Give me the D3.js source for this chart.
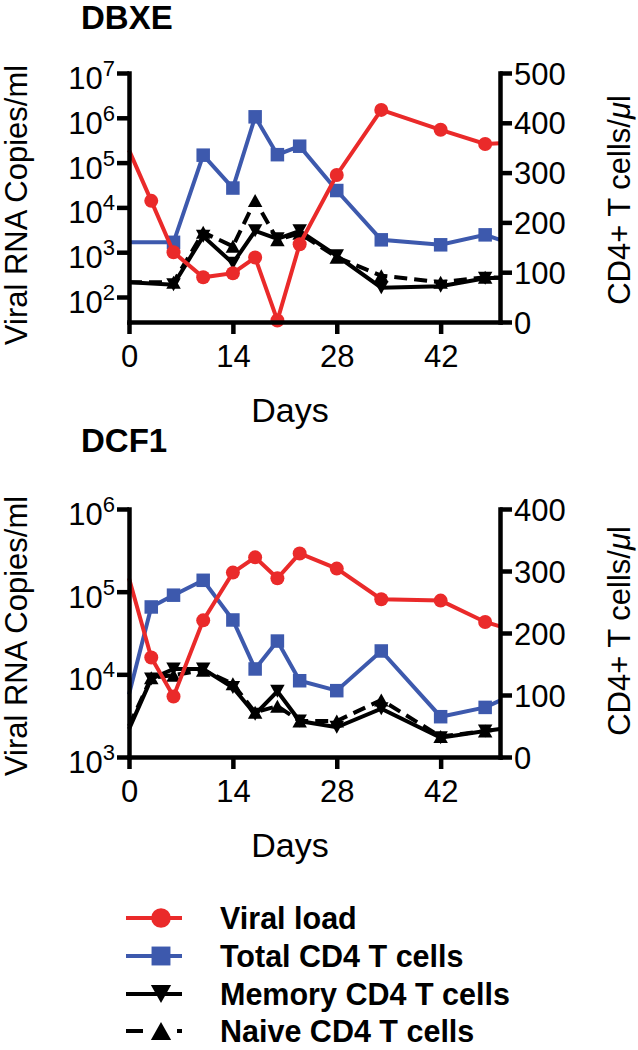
<!DOCTYPE html>
<html>
<head>
<meta charset="utf-8">
<script src="https://cdn.jsdelivr.net/npm/d3@7"></script>
<style>
  html, body { margin: 0; padding: 0; background: #fff; }
  svg { display: block; }
  text { font-family: "Liberation Sans", Arial, Helvetica, sans-serif; fill: #000; }
</style>
</head>
<body>
<svg id="chart" width="638" height="1050"></svg>
<script>
// ---------- DATA ----------
const panelTitles = ["DBXE", "DCF1"];
const xTicks = [0, 14, 28, 42];

// DBXE
const dbxeViralDays = [0, 3, 6, 10, 14, 17, 20, 23, 28, 34, 42, 48, 50];
const dbxeViral     = [1.9e5, 1.4e4, 1.0e3, 275, 340, 760, 30, 1500, 5.3e4, 1.5e6, 5.4e5, 2.6e5, 2.7e5];
const dbxeCellDays  = [0, 6, 10, 14, 17, 20, 23, 28, 34, 42, 48, 50];
const dbxeTotal     = [160, 160, 335, 269, 412, 336, 353, 264, 165, 155, 175, 165];
const dbxeMemory    = [80, 75, 172, 118, 183, 167, 183, 133, 69, 72, 88, 89];
const dbxeNaive     = [80, 80, 180, 152, 244, 165, 178, 130, 93, 80, 90, 89];
const dbxeLeftTicks = [1e2, 1e3, 1e4, 1e5, 1e6, 1e7];
const dbxeRightTicks = [0, 100, 200, 300, 400, 500];

// DCF1
const dcf1Days      = [0, 3, 6, 10, 14, 17, 20, 23, 28, 34, 42, 48, 50];
const dcf1Viral     = [1.45e5, 1.6e4, 5.4e3, 4.5e4, 1.7e5, 2.6e5, 1.45e5, 2.9e5, 1.9e5, 8.1e4, 7.8e4, 4.3e4, 3.8e4];
const dcf1Total     = [101, 242, 261, 285, 221, 142, 187, 123, 107, 171, 65, 80, 91];
const dcf1Memory    = [45, 126, 142, 142, 112, 69, 106, 58, 48, 78, 31, 42, 45];
const dcf1Naive     = [50, 128, 132, 140, 118, 72, 82, 58, 58, 92, 33, 42, 45];
const dcf1LeftTicks = [1e3, 1e4, 1e5, 1e6];
const dcf1RightTicks = [0, 100, 200, 300, 400];

const legendLabels = ["Viral load", "Total CD4 T cells", "Memory CD4 T cells", "Naive CD4 T cells"];

// ---------- STYLE ----------
const RED = "#ea2a2a", BLUE = "#3d59ad", BLACK = "#000";
const FONT = 31;

const svg = d3.select("#chart");

function triPath(w, h, down) {
  const s = down ? -1 : 1;
  return `M0,${-s*h/2} L${w/2},${s*h/2} L${-w/2},${s*h/2} Z`;
}

function drawMarker(g, type, x, y, big) {
  const k = big ? 1.4 : 1;
  if (type === "circle") {
    g.append("circle").attr("cx", x).attr("cy", y).attr("r", 7 * k).attr("fill", RED);
  } else if (type === "square") {
    const s = 13.5 * k;
    g.append("rect").attr("x", x - s/2).attr("y", y - s/2).attr("width", s).attr("height", s).attr("fill", BLUE);
  } else if (type === "down") {
    g.append("path").attr("d", triPath(14.5 * k, 13 * k, true)).attr("transform", `translate(${x},${y})`).attr("fill", BLACK);
  } else if (type === "up") {
    g.append("path").attr("d", triPath(14.5 * k, 13 * k, false)).attr("transform", `translate(${x},${y})`).attr("fill", BLACK);
  }
}

function panel(cfg) {
  const g = svg.append("g");
  const x = d3.scaleLinear().domain([0, 50]).range([129, 500]);
  const yL = d3.scaleLog().domain(cfg.logDomain).range([cfg.bottom, cfg.top]);
  const yR = d3.scaleLinear().domain([0, cfg.rightMax]).range([cfg.bottom, cfg.top]);

  g.append("text").attr("x", 81).attr("y", cfg.titleY)
    .attr("font-size", 33).attr("font-weight", "bold").text(cfg.title);

  const series = [
    { days: cfg.cellDays, vals: cfg.naive, scale: yR, color: BLACK, dash: "13,7", marker: "up" },
    { days: cfg.cellDays, vals: cfg.memory, scale: yR, color: BLACK, dash: null, marker: "down" },
    { days: cfg.cellDays, vals: cfg.total, scale: yR, color: BLUE, dash: null, marker: "square" },
    { days: cfg.viralDays, vals: cfg.viral, scale: yL, color: RED, dash: null, marker: "circle" }
  ];

  series.forEach(s => {
    const pts = s.days.map((d, i) => [d, s.vals[i]]);
    const line = d3.line().x(d => x(d[0])).y(d => s.scale(d[1]));
    g.append("path").datum(pts).attr("d", line)
      .attr("fill", "none").attr("stroke", s.color).attr("stroke-width", 4)
      .attr("stroke-linejoin", "miter")
      .attr("stroke-dasharray", s.dash);
    const mg = g.append("g");
    pts.filter(p => p[0] > 0 && p[0] < 50).forEach(p => drawMarker(mg, s.marker, x(p[0]), s.scale(p[1]), false));
  });

  const AX_W = 4.5;
  const xa = g.append("g").attr("transform", `translate(0,${cfg.bottom})`)
    .call(d3.axisBottom(x).tickValues(xTicks).tickSize(12).tickSizeOuter(0).tickPadding(11));
  const la = g.append("g").attr("transform", `translate(129,0)`)
    .call(d3.axisLeft(yL).tickValues(cfg.leftTicks).tickSize(12).tickSizeOuter(0).tickPadding(2).tickFormat(() => ""));
  const ra = g.append("g").attr("transform", `translate(500,0)`)
    .call(d3.axisRight(yR).tickValues(cfg.rightTicks).tickSize(12).tickSizeOuter(0).tickPadding(2));

  [xa, la, ra].forEach(a => {
    a.select(".domain").attr("stroke", "#000").attr("stroke-width", AX_W).attr("stroke-linecap", "square");
    a.selectAll(".tick line").attr("stroke", "#000").attr("stroke-width", AX_W);
    a.selectAll("text").attr("font-size", FONT).attr("font-family", null).attr("fill", "#000");
  });
  ra.selectAll(".tick text").attr("dy", "0.36em");

  la.selectAll(".tick text").each(function(d) {
    const t = d3.select(this);
    t.text(null).attr("dy", null).attr("y", 15.5).attr("x", -14).attr("text-anchor", "end");
    t.append("tspan").text("10");
    t.append("tspan").attr("font-size", 22).attr("dy", -13).text(String(Math.round(Math.log10(d))));
  });

  g.append("text").attr("transform", `translate(27,${cfg.leftTitleY}) rotate(-90)`)
    .attr("text-anchor", "middle").attr("font-size", FONT).text("Viral RNA Copies/ml");
  const rt = g.append("text").attr("transform", `translate(630,${cfg.rightTitleY}) rotate(-90)`)
    .attr("text-anchor", "middle").attr("font-size", FONT);
  rt.append("tspan").text("CD4+ T cells/");
  rt.append("tspan").attr("font-style", "italic").text("μ");
  rt.append("tspan").text("l");

  g.append("text").attr("x", 290).attr("y", cfg.daysY).attr("text-anchor", "middle")
    .attr("font-size", 34).text("Days");
}

panel({
  title: panelTitles[0], titleY: 29, top: 73, bottom: 322,
  logDomain: [Math.pow(10, 1.442), 1e7], rightMax: 500,
  leftTicks: dbxeLeftTicks, rightTicks: dbxeRightTicks,
  viralDays: dbxeViralDays, viral: dbxeViral,
  cellDays: dbxeCellDays, total: dbxeTotal, memory: dbxeMemory, naive: dbxeNaive,
  leftTitleY: 205, rightTitleY: 200, daysY: 422
});

panel({
  title: panelTitles[1], titleY: 452, top: 509, bottom: 757,
  logDomain: [1e3, 1e6], rightMax: 400,
  leftTicks: dcf1LeftTicks, rightTicks: dcf1RightTicks,
  viralDays: dcf1Days, viral: dcf1Viral,
  cellDays: dcf1Days, total: dcf1Total, memory: dcf1Memory, naive: dcf1Naive,
  leftTitleY: 636, rightTitleY: 631, daysY: 857
});

// ---------- LEGEND ----------
const legend = svg.append("g");
const legendTypes = ["circle", "square", "down", "up"];
const legendColors = [RED, BLUE, BLACK, BLACK];
const legendY = [918, 956, 994, 1031];
legendLabels.forEach((lab, i) => {
  const y = legendY[i];
  const ln = legend.append("line").attr("x1", 126).attr("x2", 182).attr("y1", y).attr("y2", y)
    .attr("stroke", legendColors[i]).attr("stroke-width", 4.2);
  if (i === 3) ln.attr("stroke-dasharray", "17,34,6");
  drawMarker(legend, legendTypes[i], 161, y, true);
  legend.append("text").attr("x", 220).attr("y", y + 10.5)
    .attr("font-size", 30.5).attr("font-weight", "bold").text(lab);
});
</script>
</body>
</html>
